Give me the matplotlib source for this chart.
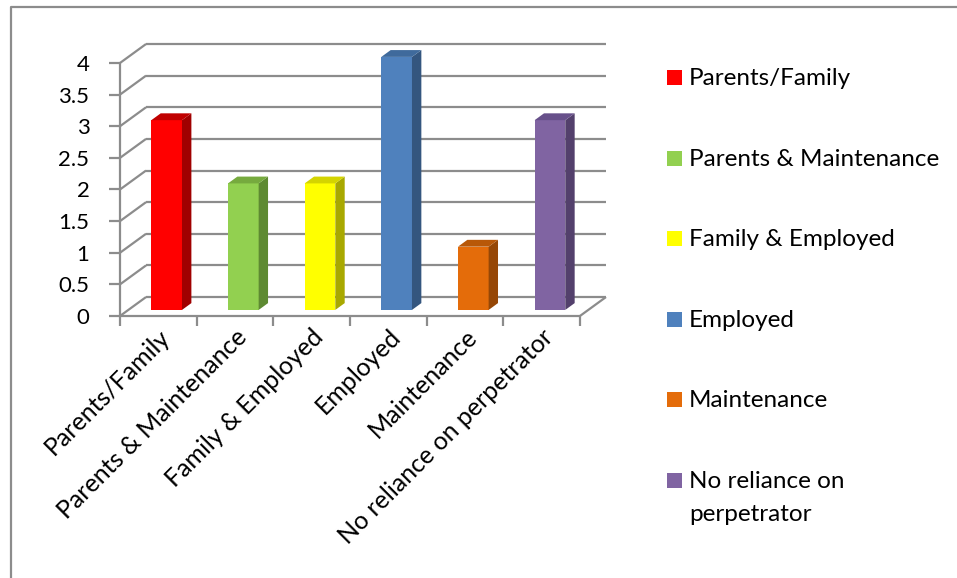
import matplotlib
matplotlib.use("Agg")
import matplotlib.pyplot as plt
from matplotlib.patches import Polygon, Rectangle
from matplotlib.lines import Line2D
from matplotlib.transforms import ScaledTranslation

plt.rcParams['font.family'] = ['Lato', 'DejaVu Sans']

# ---- data ----
categories = ["Parents/Family", "Parents & Maintenance", "Family & Employed",
              "Employed", "Maintenance", "No reliance on perpetrator"]
legend_labels = ["Parents/Family", "Parents & Maintenance", "Family & Employed",
                 "Employed", "Maintenance", "No reliance on\nperpetrator"]
values = [3, 2, 2, 4, 1, 3]
y_ticks = [0, 0.5, 1, 1.5, 2, 2.5, 3, 3.5, 4]
y_tick_labels = ["0", "0.5", "1", "1.5", "2", "2.5", "3", "3.5", "4"]

# face colours: front, side, top
front_colors = ["#FF0000", "#92D050", "#FFFF00", "#4F81BD", "#E46C0A", "#8064A2"]
side_colors = ["#A00000", "#5E8A32", "#A8A800", "#34567F", "#964706", "#53406C"]
top_colors = ["#C00000", "#76AA3E", "#D4D400", "#3F6A9C", "#B85808", "#67508A"]

# ---- figure / axes ----
W, H = 957, 578
fig = plt.figure(figsize=(W / 100, H / 100), dpi=100)

DX, DY = 0.34, 0.30          # depth offset of the back wall (data units)
T0, T1 = 0.32, 0.68          # bar depth extent as fraction of the full depth
BAR_W = 0.40
n = len(categories)
ymax = 4
FS = 17.5

left_px, right_px = 120, 606
bottom_px, top_px = 316, 44
ax = fig.add_axes([left_px / W, 1 - bottom_px / H,
                   (right_px - left_px) / W, (bottom_px - top_px) / H])
ax.set_xlim(0, n + DX)
ax.set_ylim(0, ymax + DY)
for s in ax.spines.values():
    s.set_visible(False)

grid_kw = dict(color="#8C8C8C", lw=1.6, clip_on=False, solid_capstyle="butt")

# back wall gridlines and left wall diagonals
for v in y_ticks:
    ax.plot([DX, n + DX], [v + DY, v + DY], **grid_kw, zorder=1)
    ax.plot([0, DX], [v, v + DY], **grid_kw, zorder=1)
# front axis line and floor edges
ax.plot([0, 0], [0, ymax], **grid_kw, zorder=5)
ax.plot([0, n], [0, 0], **grid_kw, zorder=5)
ax.plot([n, n + DX], [0, DY], **grid_kw, zorder=5)

# bars
for i, (v, fc, sc, tc) in enumerate(zip(values, front_colors, side_colors, top_colors)):
    c = i + 0.5
    xl = c - BAR_W / 2 + T0 * DX
    xr = c + BAR_W / 2 + T0 * DX
    y0 = T0 * DY
    ddx = (T1 - T0) * DX
    ddy = (T1 - T0) * DY
    front = Polygon([(xl, y0), (xr, y0), (xr, y0 + v), (xl, y0 + v)],
                    closed=True, fc=fc, ec="none", zorder=3)
    side = Polygon([(xr, y0), (xr + ddx, y0 + ddy), (xr + ddx, y0 + ddy + v), (xr, y0 + v)],
                   closed=True, fc=sc, ec="none", zorder=3)
    top = Polygon([(xl, y0 + v), (xr, y0 + v), (xr + ddx, y0 + v + ddy), (xl + ddx, y0 + v + ddy)],
                  closed=True, fc=tc, ec="none", zorder=3)
    for p in (front, side, top):
        ax.add_patch(p)

# y ticks on the front axis
ax.set_yticks(y_ticks)
ax.set_yticklabels(y_tick_labels)
ax.tick_params(axis="y", length=8, width=1.6, color="#8C8C8C", pad=14,
               labelsize=16, labelcolor="#000000")

# x ticks at category boundaries, labels at category centres
ax.set_xticks(range(n + 1))
ax.set_xticklabels([])
ax.tick_params(axis="x", which="major", length=7, width=1.6, color="#8C8C8C")
ax.set_xticks([i + 0.5 for i in range(n)], minor=True)
ax.set_xticklabels(categories, minor=True, rotation=45, ha="right", va="top",
                   rotation_mode="anchor", fontsize=18)
ax.tick_params(axis="x", which="minor", length=0, pad=0)
off = ScaledTranslation(0 / 100, -9 / 100, fig.dpi_scale_trans)
for lab in ax.get_xticklabels(minor=True):
    lab.set_transform(lab.get_transform() + off)

# legend (wrapped entries drawn line by line from the first baseline)
for i, (lab, fc) in enumerate(zip(legend_labels, front_colors)):
    cy = 77.5 + 80.6 * i
    fig.patches.append(Rectangle((667 / W, 1 - (cy + 7.5) / H), 15 / W, 15 / H,
                                 transform=fig.transFigure, fc=fc, ec="none"))
    for k, line in enumerate(lab.split("\n")):
        fig.text(689 / W, 1 - (cy + 7.5 + 33 * k) / H, line, fontsize=FS,
                 va="baseline", ha="left")

# chart border (top and left edges visible)
fig.lines.append(Line2D([11 / W, 11 / W, 1.0], [0.0, 1 - 7 / H, 1 - 7 / H],
                        transform=fig.transFigure, color="#8C8C8C", lw=1.6))

fig.savefig("out.png", dpi=100)
